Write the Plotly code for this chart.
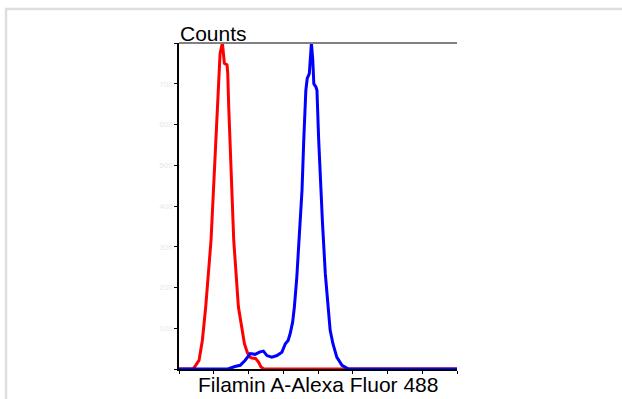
import plotly.graph_objects as go

# ---- data ----
red_x = [0, 0.40, 0.442, 0.576, 0.672, 0.768, 0.922, 1.018, 1.105, 1.182, 1.249, 1.306,
         1.383, 1.403, 1.431, 1.499, 1.575, 1.710, 1.825, 1.883, 1.96, 2.03, 2.10, 2.20,
         2.28, 2.36, 2.44, 8.0]
red_y = [0, 0, 4, 21, 70, 152, 316, 479, 643, 774, 800, 750,
         746, 725, 643, 479, 316, 152, 85, 62, 42, 30, 27, 26,
         18, 5, 0, 0]

blue_x = [0, 1.41, 1.61, 1.76, 1.90, 2.05, 2.19, 2.33, 2.43, 2.53, 2.67, 2.82, 2.96,
          3.06, 3.14, 3.20, 3.27, 3.32, 3.39, 3.46, 3.54, 3.59, 3.65, 3.69, 3.75, 3.79,
          3.81, 3.85, 3.88, 3.94, 3.97, 4.02, 4.06, 4.13, 4.21, 4.28, 4.35, 4.43, 4.54,
          4.69, 4.88, 8.0]
blue_y = [0, 0, 6, 9, 21, 38, 36, 42, 44, 33, 29, 33, 41,
          62, 70, 87, 115, 152, 225, 316, 439, 561, 684, 713, 725, 774,
          800, 758, 700, 692, 684, 561, 479, 357, 234, 152, 95, 62, 29,
          9, 0, 0]

y_tick_vals = [0, 100, 200, 300, 400, 500, 600, 700, 800]
y_tick_text = ["", "100", "200", "300", "400", "500", "600", "700", ""]
x_tick_vals = [0, 1, 2, 3, 4, 5, 6, 7, 8]

x_title = "Filamin A-Alexa Fluor 488"
y_title = "Counts"

# ---- layout constants ----
W, H = 622, 399
ML, MR, MT, MB = 179, 165, 43, 30
PW, PH = W - ML - MR, H - MT - MB
FONT = "Arial, Liberation Sans, sans-serif"

fig = go.Figure()
fig.add_trace(go.Scatter(x=red_x, y=red_y, mode="lines",
                         line=dict(color="#ff0000", width=3), hoverinfo="skip"))
fig.add_trace(go.Scatter(x=blue_x, y=blue_y, mode="lines",
                         line=dict(color="#0000ff", width=3), hoverinfo="skip"))


def px_x(p):
    return (p - ML) / PW


def px_y(p):
    return (H - MB - p) / PH


shapes = [
    # gray top frame line of the plot
    dict(type="line", xref="paper", yref="paper", x0=0, x1=1, y0=1, y1=1,
         line=dict(color="#808080", width=2)),
    # light outer frame (top and left)
    dict(type="line", xref="paper", yref="paper", x0=px_x(5), x1=px_x(W + 2),
         y0=px_y(9), y1=px_y(9), line=dict(color="#dedede", width=2.5)),
    dict(type="line", xref="paper", yref="paper", x0=px_x(6), x1=px_x(6),
         y0=px_y(8), y1=px_y(H + 2), line=dict(color="#dedede", width=2.5)),
]

fig.update_layout(
    width=W, height=H,
    margin=dict(l=ML, r=MR, t=MT, b=MB),
    paper_bgcolor="white", plot_bgcolor="white",
    showlegend=False,
    font=dict(family=FONT, color="black"),
    shapes=shapes,
    xaxis=dict(range=[0, 8], tickvals=x_tick_vals, showticklabels=False,
               ticks="outside", ticklen=3, tickcolor="black", tickwidth=1,
               showline=True, linecolor="black", linewidth=1.5,
               showgrid=False, zeroline=False, fixedrange=True),
    yaxis=dict(range=[0, 800], tickvals=y_tick_vals, ticktext=y_tick_text,
               ticks="outside", ticklen=3, tickcolor="black", tickwidth=1,
               tickfont=dict(size=8, color="#e8e8e8"),
               showline=True, linecolor="black", linewidth=1.5,
               showgrid=False, zeroline=False, fixedrange=True),
    annotations=[
        dict(text=y_title, xref="paper", yref="paper", x=0, y=1,
             xanchor="left", yanchor="bottom", showarrow=False,
             font=dict(size=21, family=FONT, color="black"), xshift=-1, yshift=-4),
        dict(text=x_title, xref="paper", yref="paper", x=0.5, y=0,
             xanchor="center", yanchor="top", showarrow=False,
             font=dict(size=21, family=FONT, color="black"), yshift=-2),
    ],
)

fig.write_html(
    "out.html",
    config={"displayModeBar": False},
    post_script="document.body.style.margin='0';document.body.style.overflow='hidden';",
)
